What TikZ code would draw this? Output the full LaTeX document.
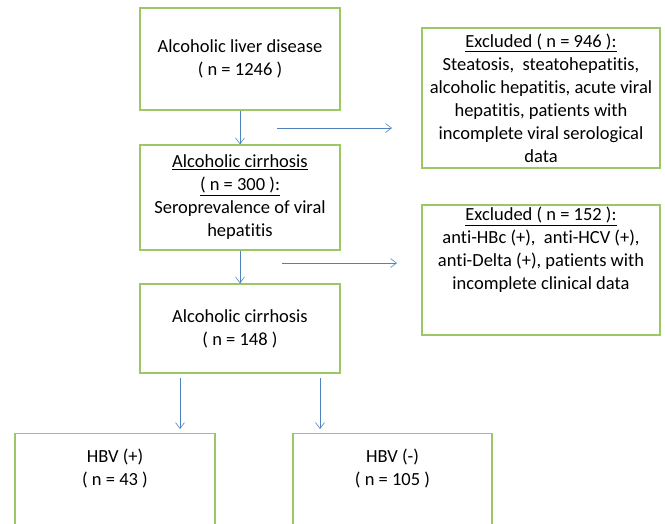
\documentclass[tikz,border=0pt]{standalone}
\usepackage{fontspec}
\setmainfont{Carlito}[Ligatures=NoCommon]
\usetikzlibrary{arrows.meta,positioning}
\definecolor{boxgreen}{RGB}{155,200,100}
\definecolor{arrowblue}{RGB}{79,129,189}
\tikzset{
  box/.style={draw=boxgreen,line width=1.2pt,minimum width=200pt,align=center,
    font=\fontsize{18.5}{23}\selectfont,inner sep=0pt},
  flow/.style={draw=arrowblue,line width=0.6pt,-{Straight Barb[length=6pt,width=9pt]}}
}
\begin{document}
\begin{tikzpicture}[x=1pt,y=-1pt]
      \useasboundingbox (0,0) rectangle (665,523);
      \clip (0,0) rectangle (665,523);
      \node[box,minimum height=102pt] (liver) at (240,59)
        {Alcoholic liver disease\\( n = 1246 )};
      \node[box,minimum height=105pt] (cirrA) at (240,197.5)
        {\underline{Alcoholic cirrhosis}\\\underline{( n = 300 ):}\\Seroprevalence of viral\\hepatitis};
      \node[box,minimum height=89pt] (cirrB) at (240,328.5)
        {Alcoholic cirrhosis\\( n = 148 )};
      \node[box,minimum width=238pt,minimum height=140pt] (excA) at (541,98)
        {\underline{Excluded ( n = 946 ):}\\Steatosis,\ \ steatohepatitis,\\alcoholic hepatitis, acute viral\\hepatitis, patients with\\incomplete viral serological\\data};
      \node[box,minimum width=238pt,minimum height=130pt] (excB) at (541,270)
        {\underline{Excluded ( n = 152 ):}\\anti-HBc (+),\ \ anti-HCV (+),\\anti-Delta (+), patients with\\incomplete clinical data\\[20pt]};
      \node[box,minimum height=120pt,anchor=north] (hbvP) at (115,433) {};
      \node[box,minimum width=199pt,minimum height=120pt,anchor=north] (hbvN) at (392.5,433) {};
      \node[box,draw=none,anchor=north] (hbvPtext) at (115,448) {HBV (+)\\( n = 43 )};
      \node[box,draw=none,anchor=north] (hbvNtext) at (392.5,448) {HBV (-)\\( n = 105 )};
      % side branches and split
      \coordinate (exA1) at (277,128);
      \coordinate (exA2) at (392,128);
      \coordinate (exB1) at (282,263);
      \coordinate (exB2) at (397,263);
      \coordinate (spP1) at (180,378);
      \coordinate (spP2) at (180,429);
      \coordinate (spN1) at (320,378);
      \coordinate (spN2) at (320,429);
      \begin{scope}[flow]
        \draw (liver) to (cirrA);
        \draw (cirrA) to (cirrB);
        \draw (exA1) to (exA2);
        \draw (exB1) to (exB2);
        \draw (spP1) to (spP2);
        \draw (spN1) to (spN2);
      \end{scope}
    \end{tikzpicture}
\end{document}
